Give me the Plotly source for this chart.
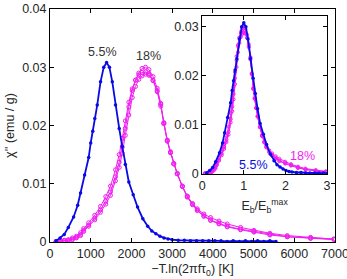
import plotly.graph_objects as go

# ---------------- data ----------------
blue_x = [150, 250, 350, 450, 580, 680, 750, 850, 950, 1000, 1050, 1100, 1160, 1241,
          1320, 1390, 1460, 1530, 1609, 1700, 1774, 1850, 1936, 2044, 2150, 2280, 2400,
          2500, 2600, 2700, 2800, 2900, 3000, 3150, 3300, 3450, 3600, 3750, 3900, 4050,
          4200, 4350, 4500, 4650, 4800, 4950, 5100, 5250, 5400, 5550]
blue_y = [0.0002, 0.0007, 0.0013, 0.0025, 0.0043, 0.0063, 0.0084, 0.0115, 0.0145, 0.0170,
          0.0190, 0.0212, 0.0235, 0.0275, 0.0300, 0.0308, 0.0300, 0.0275, 0.0235, 0.0195,
          0.0164, 0.0133, 0.0103, 0.0081, 0.0060, 0.0040, 0.0027, 0.0019, 0.0014, 0.0010,
          0.0007, 0.0005, 0.0004, 0.0003, 0.0003, 0.0002, 0.0002, 0.0002, 0.0002, 0.0002,
          0.0002, 0.0001, 0.0002, 0.0001, 0.0002, 0.0001, 0.0002, 0.0001, 0.0002, 0.0001]

mag_x = [150, 250, 350, 450, 550, 650, 750, 825, 950, 1100, 1240, 1370, 1486, 1609, 1700,
         1774, 1850, 1936, 2020, 2100, 2180, 2260, 2346, 2430, 2530, 2633, 2720, 2796, 2880,
         2960, 3040, 3125, 3250, 3371, 3500, 3617, 3780, 3943, 4150, 4353, 4680, 5008, 5400,
         5828, 6400, 6973]
mag_y1 = [0.0001, 0.0001, 0.0002, 0.0003, 0.0005, 0.0008, 0.0013, 0.0020, 0.0029, 0.0041,
          0.0055, 0.0070, 0.0086, 0.0112, 0.0137, 0.0163, 0.0195, 0.0232, 0.0260, 0.0278,
          0.0290, 0.0298, 0.0300, 0.0296, 0.0284, 0.0264, 0.0238, 0.0205, 0.0175, 0.0155,
          0.0135, 0.0118, 0.0096, 0.0078, 0.0065, 0.0055, 0.0045, 0.0038, 0.0032, 0.0027,
          0.0022, 0.0018, 0.0013, 0.0009, 0.0007, 0.0005]
mag_y2 = [0.0001, 0.0002, 0.0003, 0.0004, 0.0007, 0.0010, 0.0016, 0.0023, 0.0033, 0.0046,
          0.0061, 0.0078, 0.0096, 0.0124, 0.0150, 0.0178, 0.0208, 0.0240, 0.0263, 0.0278,
          0.0287, 0.0291, 0.0292, 0.0288, 0.0277, 0.0258, 0.0233, 0.0203, 0.0173, 0.0153,
          0.0134, 0.0117, 0.0096, 0.0079, 0.0066, 0.0057, 0.0048, 0.0042, 0.0036, 0.0031,
          0.0025, 0.0020, 0.0015, 0.0011, 0.0008, 0.0005]
mag_y3 = [0.0001, 0.0001, 0.0002, 0.0003, 0.0004, 0.0007, 0.0011, 0.0018, 0.0027, 0.0038,
          0.0051, 0.0065, 0.0080, 0.0105, 0.0128, 0.0152, 0.0183, 0.0218, 0.0248, 0.0267,
          0.0279, 0.0285, 0.0288, 0.0286, 0.0278, 0.0260, 0.0236, 0.0204, 0.0174, 0.0154,
          0.0134, 0.0117, 0.0095, 0.0077, 0.0064, 0.0054, 0.0044, 0.0037, 0.0031, 0.0026,
          0.0021, 0.0017, 0.0012, 0.0009, 0.0006, 0.0004]

blue_peak = 1390.0   # E_b^max for 5.5 %
mag_peak = 2346.0    # E_b^max for 18 %

main_labels = ["5.5%", "18%"]
main_label_x = [1300, 2420]
main_label_y = [0.0326, 0.0319]
inset_labels = ["5.5%", "18%"]
inset_label_x = [1.23, 2.41]
inset_label_y = [0.0018, 0.0036]

BLUE = "#0a0ae6"
MAG = "#f01ef0"
FONT = "Liberation Sans, Arial, sans-serif"

fig = go.Figure()

# main panel
for y in (mag_y3, mag_y2, mag_y1):
    fig.add_trace(go.Scatter(x=mag_x, y=y, mode="lines+markers", xaxis="x", yaxis="y",
                             line=dict(color=MAG, width=1),
                             marker=dict(symbol="circle-open", size=4, color=MAG, line=dict(width=1)),
                             showlegend=False, hoverinfo="skip"))
fig.add_trace(go.Scatter(x=blue_x, y=blue_y, mode="lines+markers", xaxis="x", yaxis="y",
                         line=dict(color=BLUE, width=1.8),
                         marker=dict(symbol="circle", size=3.5, color=BLUE),
                         showlegend=False, hoverinfo="skip"))

# inset
for y in (mag_y3, mag_y2, mag_y1):
    fig.add_trace(go.Scatter(x=[v / mag_peak for v in mag_x], y=y, mode="lines+markers",
                             xaxis="x2", yaxis="y2",
                             line=dict(color=MAG, width=1),
                             marker=dict(symbol="circle-open", size=3, color=MAG, line=dict(width=1)),
                             showlegend=False, hoverinfo="skip"))
fig.add_trace(go.Scatter(x=[v / blue_peak for v in blue_x], y=blue_y, mode="lines+markers",
                         xaxis="x2", yaxis="y2",
                         line=dict(color=BLUE, width=1.8),
                         marker=dict(symbol="circle", size=3.5, color=BLUE),
                         showlegend=False, hoverinfo="skip"))

# text labels
for t, x, y in zip(main_labels, main_label_x, main_label_y):
    fig.add_annotation(x=x, y=y, xref="x", yref="y", text=t, showarrow=False,
                       font=dict(size=12.5, color="#333333", family=FONT))
for t, x, y, c in zip(inset_labels, inset_label_x, inset_label_y, [BLUE, MAG]):
    fig.add_annotation(x=x, y=y, xref="x2", yref="y2", text=t, showarrow=False,
                       font=dict(size=12.5, color=c, family=FONT))

# white background of inset (covers main traces)
fig.add_shape(type="rect", xref="x2", yref="y2", x0=0, x1=3, y0=0, y1=0.0322,
              fillcolor="white", line=dict(width=0), layer="below")

axis_common = dict(showline=True, linecolor="black", linewidth=1, mirror="ticks",
                   ticks="inside", ticklen=4, tickcolor="black", showgrid=False,
                   zeroline=False, ticklabeloverflow="allow", automargin=False,
                   tickfont=dict(size=12.5, color="#262626", family=FONT))

fig.update_layout(
    width=347, height=279,
    margin=dict(l=50, r=12, t=9, b=37),
    paper_bgcolor="white", plot_bgcolor="white",
    font=dict(family=FONT, color="#262626"),
    xaxis=dict(range=[0, 7000], tickvals=[0, 1000, 2000, 3000, 4000, 5000, 6000, 7000],
               domain=[0, 1],
               title=dict(text="\u2212T.ln(2\u03c0f\u03c4<sub>0</sub>) [K]", font=dict(size=12.5), standoff=4),
               **axis_common),
    yaxis=dict(range=[0, 0.04], tickvals=[0, 0.01, 0.02, 0.03, 0.04],
               ticktext=["0", "0.01", "0.02", "0.03", "0.04"], domain=[0, 1],
               title=dict(text="\u03c7'' (emu / g)", font=dict(size=12.5), standoff=4),
               **axis_common),
    xaxis2=dict(range=[0, 3], tickvals=[0, 1, 2, 3], domain=[0.534, 0.972], anchor="y2",
                title=dict(text="E<sub>b</sub>/E<sub>b</sub><sup>max</sup>", font=dict(size=12.5), standoff=9),
                **axis_common),
    yaxis2=dict(range=[0, 0.0322], tickvals=[0, 0.01, 0.02, 0.03],
                ticktext=["0", "0.01", "0.02", "0.03"], domain=[0.292, 0.97], anchor="x2",
                **axis_common),
)

fig.write_html("out.html")
